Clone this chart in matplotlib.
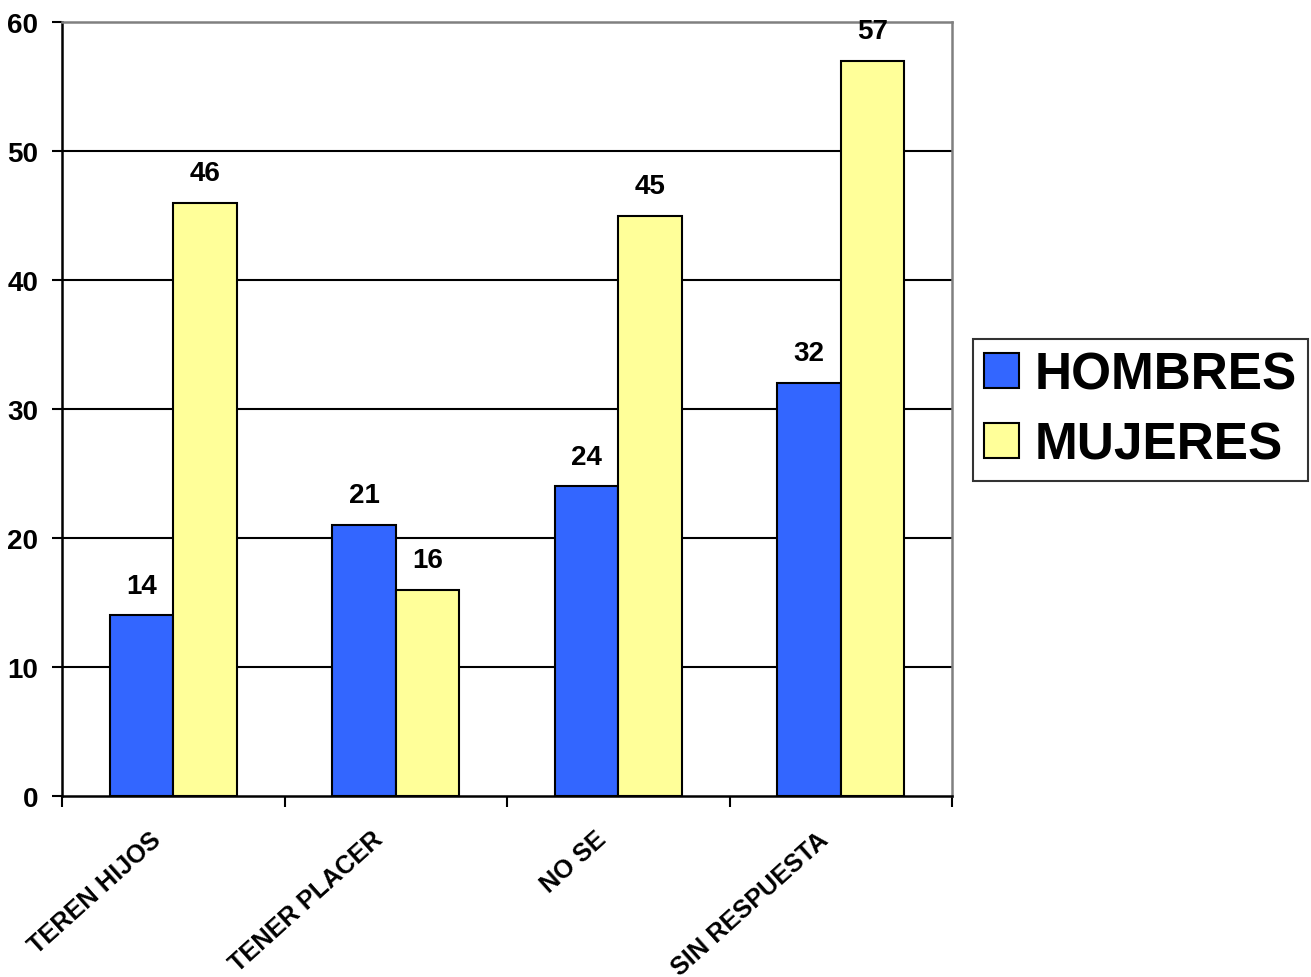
import matplotlib
matplotlib.use("Agg")
import matplotlib.pyplot as plt
import matplotlib.transforms as mtransforms
import numpy as np

categories = ["TEREN HIJOS", "TENER PLACER", "NO SE", "SIN RESPUESTA"]
hombres = [14, 21, 24, 32]
mujeres = [46, 16, 45, 57]
series_names = ["HOMBRES", "MUJERES"]
yticks = [0, 10, 20, 30, 40, 50, 60]

plt.rcParams['font.family'] = ['Liberation Sans', 'DejaVu Sans']
plt.rcParams['font.weight'] = 'bold'

fig = plt.figure(figsize=(13.11, 9.78), dpi=100)
ax = fig.add_axes([62/1311, 1-797/978, (952-62)/1311, (797-23)/978])

x = np.arange(len(categories))
w = 0.285
b1 = ax.bar(x - w/2, hombres, w, color='#3366FF', edgecolor='black', linewidth=1.5, label=series_names[0], zorder=3)
b2 = ax.bar(x + w/2, mujeres, w, color='#FFFF99', edgecolor='black', linewidth=1.5, label=series_names[1], zorder=3)

for bars in (b1, b2):
    for r in bars:
        ax.text(r.get_x() + r.get_width()/2, r.get_height() + 1.3, f"{int(r.get_height())}",
                ha='center', va='bottom', fontsize=20, fontweight='bold')

ax.set_xlim(-0.5, 3.5)
ax.set_ylim(0, 60)
ax.set_yticks(yticks)
ax.set_yticklabels([str(v) for v in yticks], fontsize=20, fontweight='bold')
ax.tick_params(axis='y', direction='out', length=7, width=1.5, pad=10)

for v in yticks[1:-1]:
    ax.axhline(v, color='black', linewidth=1.5, zorder=1)

ax.set_xticks(np.arange(-0.5, 4.0, 1.0), minor=False)
ax.set_xticklabels([])
ax.tick_params(axis='x', which='major', direction='out', length=8, width=1.5)
ax.set_xticks(x, minor=True)
ax.set_xticklabels(categories, minor=True, rotation=42, ha='right', va='top',
                   rotation_mode='anchor', fontsize=18.2, fontweight='bold')
ax.tick_params(axis='x', which='minor', length=0, pad=22)
offset = mtransforms.ScaledTranslation(-24/100, 0, fig.dpi_scale_trans)
for lbl in ax.get_xticklabels(minor=True):
    lbl.set_transform(lbl.get_transform() + offset)

for s in ['left', 'bottom']:
    ax.spines[s].set_color('black')
    ax.spines[s].set_linewidth(1.8)
for s in ['top', 'right']:
    ax.spines[s].set_color('#808080')
    ax.spines[s].set_linewidth(1.8)

leg = fig.legend(loc='center left', bbox_to_anchor=(973/1311, 1-411/978), borderaxespad=0,
                 prop={'weight': 'bold', 'size': 37}, frameon=True, fancybox=False,
                 handlelength=0.68, handleheight=0.68, handletextpad=0.3, labelspacing=0.4,
                 borderpad=0.22)
leg.get_frame().set_edgecolor('black')
leg.get_frame().set_linewidth(1.5)

fig.savefig("out.png", dpi=100)
